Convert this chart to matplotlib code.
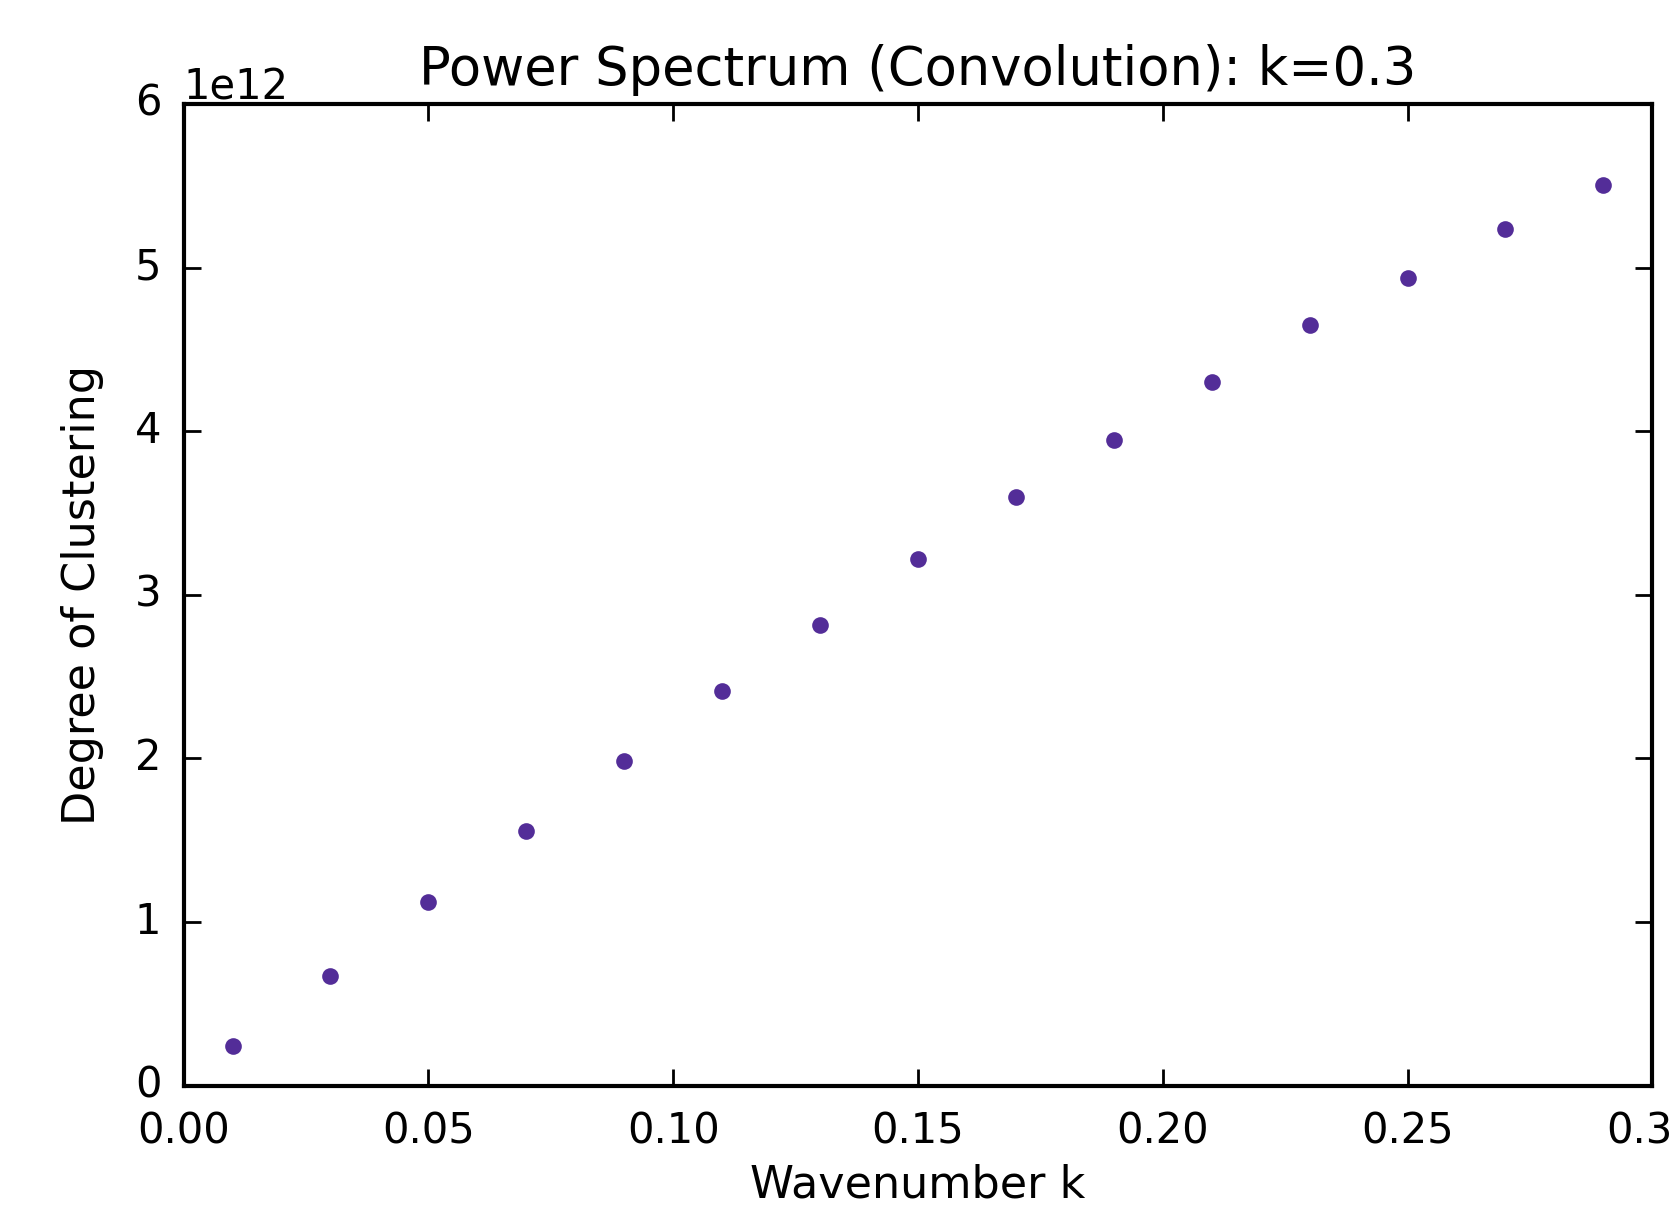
import matplotlib
matplotlib.use("Agg")
import matplotlib.pyplot as plt

plt.style.use("classic")

k = [0.01, 0.03, 0.05, 0.07, 0.09, 0.11, 0.13, 0.15, 0.17, 0.19, 0.21, 0.23, 0.25, 0.27, 0.29]
power = [0.24e12, 0.67e12, 1.12e12, 1.555e12, 1.985e12, 2.414e12, 2.817e12, 3.22e12,
         3.598e12, 3.949e12, 4.30e12, 4.652e12, 4.938e12, 5.237e12, 5.504e12]

fig = plt.figure(figsize=(16.69, 12.09), dpi=100)
ax = fig.add_axes([0.110, 0.102, 0.880, 0.812])
ax.plot(k, power, linestyle="none", marker="o", markersize=12,
        markerfacecolor="#532d98", markeredgecolor="#532d98", markeredgewidth=0)
ax.set_xlim(0.0, 0.3)
ax.set_ylim(0, 6e12)
ax.set_title("Power Spectrum (Convolution): k=0.3", fontsize=38, pad=14)
ax.set_xlabel("Wavenumber k", fontsize=32, labelpad=8)
ax.set_ylabel("Degree of Clustering", fontsize=32, labelpad=22)
ax.tick_params(labelsize=30, length=12, width=2)
ax.tick_params(axis="x", pad=18)
ax.tick_params(axis="y", pad=16)
ax.yaxis.get_offset_text().set_fontsize(30)
for s in ax.spines.values():
    s.set_linewidth(3)
fig.savefig("out.png", dpi=100)
